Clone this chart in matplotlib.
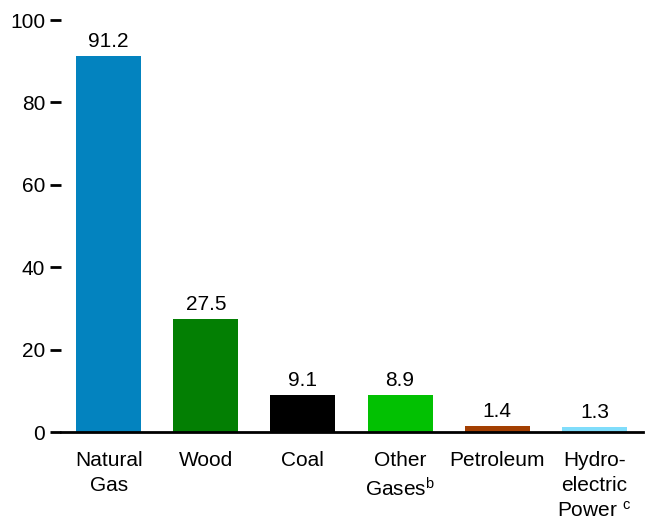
import matplotlib
matplotlib.use("Agg")
import matplotlib.pyplot as plt

plt.rcParams["font.family"] = ["Liberation Sans", "DejaVu Sans"]
plt.rcParams["mathtext.fontset"] = "custom"
plt.rcParams["mathtext.rm"] = "Liberation Sans"
plt.rcParams["mathtext.it"] = "Liberation Sans"

# values
sources = ["Natural\nGas", "Wood", "Coal", "Other\nGases$^{\\mathrm{b}}$",
           "Petroleum", "Hydro-\nelectric\nPower $^{\\mathrm{c}}$"]
values = [91.2, 27.5, 9.1, 8.9, 1.4, 1.3]
colors = ["#0383BF", "#037F03", "#000000", "#02C102", "#A33F02", "#80DDFB"]
yticks = [0, 20, 40, 60, 80, 100]

fig = plt.figure(figsize=(6.5, 5.22), dpi=100)
ax = fig.add_axes([61 / 650, 1 - 432 / 522, 582 / 650, 412 / 522])

x = list(range(len(values)))
ax.bar(x, values, width=0.67, color=colors, zorder=2)

for xi, v in zip(x, values):
    ax.text(xi, v + 1.2, f"{v}", ha="center", va="bottom", fontsize=15)

ax.set_xlim(-0.49, 5.5)
ax.set_ylim(0, 100)
ax.set_yticks(yticks)
ax.set_yticklabels([str(t) for t in yticks], fontsize=15)
ax.set_xticks(x)
ax.set_xticklabels(sources, fontsize=15, linespacing=1.35)

ax.tick_params(axis="y", length=8, width=2, pad=3.5, color="black")
ax.tick_params(axis="x", length=0, pad=14)

for s in ["top", "right", "left"]:
    ax.spines[s].set_visible(False)
ax.spines["bottom"].set_linewidth(2)
ax.spines["bottom"].set_zorder(3)

fig.savefig("out.png", dpi=100)
